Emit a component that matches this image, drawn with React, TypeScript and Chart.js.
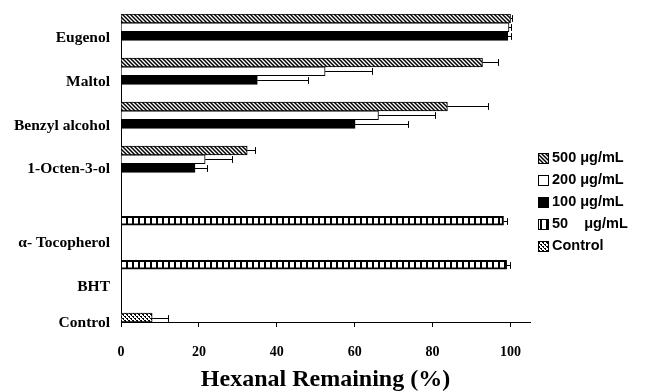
import React, { useEffect, useRef } from "react";
import { Chart, registerables } from "chart.js";
Chart.register(...registerables);

const categories = ["Eugenol", "Maltol", "Benzyl alcohol", "1-Octen-3-ol", "α- Tocopherol", "BHT", "Control"];
const seriesLabels = ["500 μg/mL", "200 μg/mL", "100 μg/mL", "50    μg/mL", "Control"];

const s500 = [100, 92.8, 83.8, 32.4, null, null, null];
const s200 = [99.6, 52.4, 66.1, 21.6, null, null, null];
const s100 = [99.3, 35, 60.1, 19, null, null, null];
const s50 = [null, null, null, null, 98.2, 99, null];
const sControl = [null, null, null, null, null, null, 8];

const e500 = [0.4, 3.9, 10.5, 2, null, null, null];
const e200 = [0.5, 12, 14.6, 7, null, null, null];
const e100 = [0.8, 13, 13.7, 3, null, null, null];
const e50 = [null, null, null, null, 0.8, 0.8, null];
const eControl = [null, null, null, null, null, null, 4];

const xMin = 0;
const xMax = 105;
const xStep = 20;

// label vertical shifts (px) relative to category centre, as placed in the figure
const labelShift = [2, 2, 2, 1, 31, 31, 23];

function makePattern(kind: string): CanvasPattern | string {
  const c = document.createElement("canvas");
  const g = c.getContext("2d")!;
  if (kind === "diag") {
    const s = 4;
    c.width = s; c.height = s;
    g.fillStyle = "#fff"; g.fillRect(0, 0, s, s);
    g.strokeStyle = "#000"; g.lineWidth = 1.5;
    for (const o of [-s, 0, s]) {
      g.beginPath(); g.moveTo(o - 1, -1); g.lineTo(o + s + 1, s + 1); g.stroke();
    }
  } else if (kind === "vert") {
    c.width = 6; c.height = 2;
    g.fillStyle = "#fff"; g.fillRect(0, 0, 6, 2);
    g.fillStyle = "#000"; g.fillRect(0, 0, 2, 2);
  } else if (kind === "dots") {
    c.width = 4; c.height = 4;
    g.fillStyle = "#fff"; g.fillRect(0, 0, 4, 4);
    g.fillStyle = "#000";
    g.fillRect(0, 0, 2, 1); g.fillRect(2, 2, 2, 1); g.fillRect(1, 1, 1, 1); g.fillRect(3, 3, 1, 1);
  }
  return g.createPattern(c, "repeat") || "#888";
}

const errorBars = {
  id: "errorBars",
  afterDatasetsDraw(chart: any) {
    const ctx = chart.ctx;
    const xs = chart.scales.x;
    ctx.save();
    ctx.strokeStyle = "#000";
    ctx.lineWidth = 1;
    chart.data.datasets.forEach((ds: any, di: number) => {
      const meta = chart.getDatasetMeta(di);
      meta.data.forEach((el: any, i: number) => {
        const v = ds.data[i];
        const e = ds.errors ? ds.errors[i] : null;
        if (v == null || e == null) return;
        const x0 = xs.getPixelForValue(v);
        const x1 = Math.round(xs.getPixelForValue(v + e)) + 0.5;
        const y = Math.round(el.y) + 0.5;
        const h = el.height;
        ctx.beginPath();
        ctx.moveTo(x0, y); ctx.lineTo(x1, y);
        ctx.moveTo(x1, y - h / 2 + 1); ctx.lineTo(x1, y + h / 2 - 1);
        ctx.stroke();
      });
    });
    ctx.restore();
  },
};

const categoryLabels = {
  id: "categoryLabels",
  afterDraw(chart: any) {
    const ctx = chart.ctx;
    const ys = chart.scales.y;
    ctx.save();
    ctx.fillStyle = "#000";
    ctx.font = "bold 15.5px 'Liberation Serif', 'Times New Roman', serif";
    ctx.textAlign = "right";
    ctx.textBaseline = "middle";
    categories.forEach((c, i) => {
      ctx.fillText(c, chart.chartArea.left - 11, ys.getPixelForValue(i) + labelShift[i]);
    });
    ctx.restore();
  },
};

const customLegend = {
  id: "customLegend",
  afterDraw(chart: any) {
    const ctx = chart.ctx;
    ctx.save();
    ctx.font = "bold 14.5px 'Liberation Sans', Arial, sans-serif";
    ctx.textAlign = "left";
    ctx.textBaseline = "middle";
    const x = chart.chartArea.right + 8;
    chart.data.datasets.forEach((ds: any, i: number) => {
      const y = 158 + i * 22;
      ctx.fillStyle = ds.backgroundColor;
      ctx.fillRect(x, y - 5, 10, 10);
      ctx.strokeStyle = "#000";
      ctx.lineWidth = 1;
      ctx.strokeRect(x + 0.5, y - 5 + 0.5, 10, 10);
      ctx.fillStyle = "#000";
      ctx.fillText(ds.label, x + 14, y);
    });
    ctx.restore();
  },
};

export default function App() {
  const ref = useRef<HTMLCanvasElement>(null);
  useEffect(() => {
    if (!ref.current) return;
    const diag = makePattern("diag");
    const vert = makePattern("vert");
    const dots = makePattern("dots");
    const serif = "'Liberation Serif', 'Times New Roman', serif";
    const chart = new Chart(ref.current, {
      type: "bar",
      data: {
        labels: categories,
        datasets: [
          { label: seriesLabels[0], data: s500, errors: e500, backgroundColor: diag, borderColor: "#000", borderWidth: 1 } as any,
          { label: seriesLabels[1], data: s200, errors: e200, backgroundColor: "#fff", borderColor: "#000", borderWidth: 1 } as any,
          { label: seriesLabels[2], data: s100, errors: e100, backgroundColor: "#000", borderColor: "#000", borderWidth: 1 } as any,
          { label: seriesLabels[3], data: s50, errors: e50, backgroundColor: vert, borderColor: "#000", borderWidth: 2 } as any,
          { label: seriesLabels[4], data: sControl, errors: eControl, backgroundColor: dots, borderColor: "#000", borderWidth: 1 } as any,
        ],
      },
      options: {
        indexAxis: "y",
        responsive: false,
        animation: false,
        maintainAspectRatio: false,
        layout: { padding: { top: 14, right: 122, left: 0, bottom: 0 } },
        datasets: { bar: { barPercentage: 1, categoryPercentage: 1 } },
        plugins: { legend: { display: false }, tooltip: { enabled: false } },
        scales: {
          x: {
            type: "linear",
            min: xMin,
            max: xMax,
            ticks: { stepSize: xStep, includeBounds: false, color: "#000", padding: 17, font: { family: serif, size: 14, weight: "bold" } },
            grid: { drawOnChartArea: false, drawTicks: true, tickLength: 5, color: "#000" },
            border: { color: "#000", width: 1 },
            title: { display: true, text: "Hexanal Remaining (%)", color: "#000", padding: { top: 0, bottom: -2 }, font: { family: serif, size: 24, weight: "bold" } },
            afterFit: (s: any) => { s.height = 70; },
          },
          y: {
            type: "category",
            ticks: { display: false },
            grid: { display: false },
            border: { color: "#000", width: 1 },
            afterFit: (s: any) => { s.width = 121; },
          },
        },
      } as any,
      plugins: [errorBars, categoryLabels, customLegend],
    });
    return () => chart.destroy();
  }, []);
  return (
    <div style={{ position: "fixed", left: 0, top: 0, width: 652, height: 392, background: "#fff" }}>
      <canvas ref={ref} width={652} height={392} style={{ display: "block" }} />
    </div>
  );
}
